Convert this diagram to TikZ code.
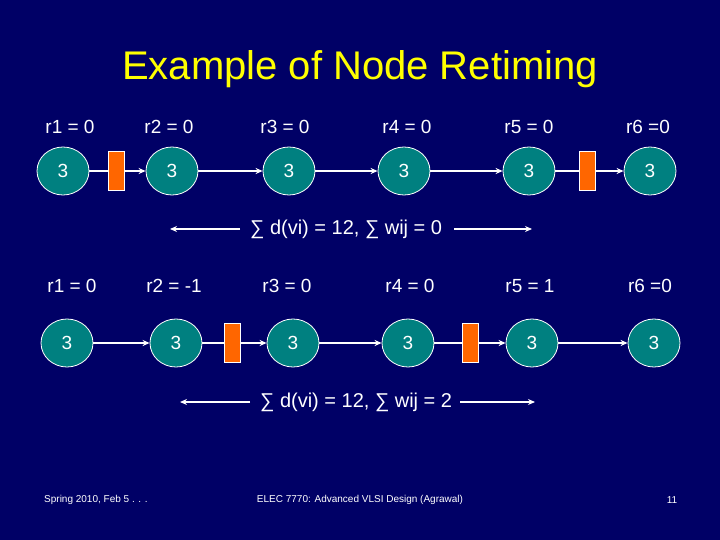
\documentclass[tikz,border=0pt]{standalone}
\usepackage{fontspec}
\setmainfont{Liberation Sans}
\usetikzlibrary{positioning,arrows.meta,shapes.geometric}
\definecolor{slidebg}{RGB}{0,0,102}
\definecolor{opteal}{RGB}{0,128,128}
\definecolor{regorange}{RGB}{255,102,0}
\definecolor{titleyellow}{RGB}{255,255,0}

\begin{document}
\begin{tikzpicture}[x=1pt, y=-1pt,
  lbl/.style={text=white, font=\fontsize{19}{23}\selectfont, inner sep=0pt},
  sumlbl/.style={text=white, font=\fontsize{20}{24}\selectfont, inner sep=0pt, anchor=west},
  op/.style={ellipse, draw=white, line width=0.8pt, fill=opteal, text=white,
    minimum width=52pt, minimum height=48pt, inner sep=0pt, font=\fontsize{19}{23}\selectfont},
  reg/.style={draw=white, line width=0.8pt, fill=regorange, minimum width=16pt, minimum height=39pt, inner sep=0pt},
  wire/.style={draw=white, line width=1.4pt},
  arr/.style={wire, -{Stealth[length=7pt, width=6pt]}},
  foot/.style={text=white, font=\fontsize{10}{12}\selectfont, inner sep=0pt}]
\fill[slidebg] (0,0) rectangle (720,540);
\useasboundingbox (0,0) rectangle (720,540);
\node[text=titleyellow, font=\fontsize{40}{48}\selectfont, inner sep=0pt] (title) at (360,69) {Example of Node Retiming};
% --- top row: before retiming
\node[lbl] (tl1) at (70,127) {r1 = 0};
\node[lbl] (tl2) at (169,127) {r2 = 0};
\node[lbl] (tl3) at (285,127) {r3 = 0};
\node[lbl] (tl4) at (407,127) {r4 = 0};
\node[lbl] (tl5) at (529,127) {r5 = 0};
\node[lbl] (tl6) at (648,127) {r6 =0};
\node[op] (t1) at (63,171) {3};
\node[op] (t2) at (172,171) {3};
\node[op] (t3) at (289,171) {3};
\node[op] (t4) at (404,171) {3};
\node[op] (t5) at (529,171) {3};
\node[op] (t6) at (650,171) {3};
\node[reg] (tr1) at (116,171) {};
\node[reg] (tr2) at (587,171) {};
\draw[wire] (t1) -- (tr1);
\draw[arr] (tr1) -- (t2);
\draw[arr] (t2) -- (t3);
\draw[arr] (t3) -- (t4);
\draw[arr] (t4) -- (t5);
\draw[wire] (t5) -- (tr2);
\draw[arr] (tr2) -- (t6);
\node[sumlbl] (tsum) at (250,229) {∑ d(vi) = 12, ∑ wij = 0};
\coordinate (tsl) at (170,229);
\coordinate (tsr) at (532,229);
\draw[arr] ([xshift=-10pt]tsum.west) -- (tsl);
\draw[arr] ([xshift=12pt]tsum.east) -- (tsr);
% --- bottom row: after retiming
\node[lbl] (bl1) at (72,286) {r1 = 0};
\node[lbl] (bl2) at (174,286) {r2 = -1};
\node[lbl] (bl3) at (287,286) {r3 = 0};
\node[lbl] (bl4) at (410,286) {r4 = 0};
\node[lbl] (bl5) at (530,286) {r5 = 1};
\node[lbl] (bl6) at (650,286) {r6 =0};
\node[op] (b1) at (67,343) {3};
\node[op] (b2) at (176,343) {3};
\node[op] (b3) at (293,343) {3};
\node[op] (b4) at (408,343) {3};
\node[op] (b5) at (532,343) {3};
\node[op] (b6) at (654,343) {3};
\node[reg] (br1) at (232,343) {};
\node[reg] (br2) at (470,343) {};
\draw[arr] (b1) -- (b2);
\draw[wire] (b2) -- (br1);
\draw[arr] (br1) -- (b3);
\draw[arr] (b3) -- (b4);
\draw[wire] (b4) -- (br2);
\draw[arr] (br2) -- (b5);
\draw[arr] (b5) -- (b6);
\node[sumlbl] (bsum) at (260,402) {∑ d(vi) = 12, ∑ wij = 2};
\coordinate (bsl) at (180,402);
\coordinate (bsr) at (535,402);
\draw[arr] ([xshift=-10pt]bsum.west) -- (bsl);
\draw[arr] ([xshift=8pt]bsum.east) -- (bsr);
% --- footer
\node[foot, anchor=west] (f1) at (44,500) {Spring 2010, Feb 5 . . .};
\node[foot] (f2) at (360,500) {ELEC 7770: Advanced VLSI Design (Agrawal)};
\node[foot] (f3) at (672,500) {11};
\end{tikzpicture}
\end{document}
